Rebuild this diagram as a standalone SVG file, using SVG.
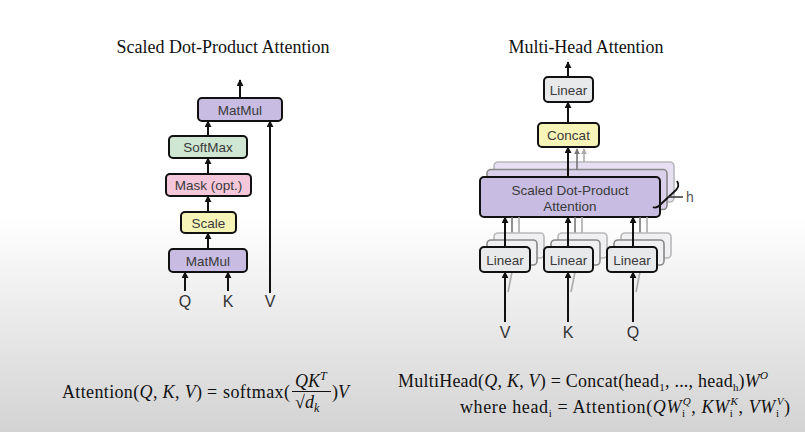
<svg xmlns="http://www.w3.org/2000/svg" width="805" height="432" viewBox="0 0 805 432">
<defs>
<linearGradient id="bg" x1="0" y1="0" x2="0" y2="1">
<stop offset="0" stop-color="#ffffff"/>
<stop offset="0.5" stop-color="#ffffff"/>
<stop offset="1" stop-color="#d3d3d3"/>
</linearGradient>
<marker id="ah" viewBox="0 0 8 8" refX="7" refY="4" markerWidth="7" markerHeight="7" markerUnits="userSpaceOnUse" orient="auto">
<path d="M0,0 L8,4 L0,8 z" fill="#111"/>
</marker>
<marker id="ahg" viewBox="0 0 8 8" refX="7" refY="4" markerWidth="6" markerHeight="6" markerUnits="userSpaceOnUse" orient="auto">
<path d="M0,0 L8,4 L0,8 z" fill="#777"/>
</marker>
<marker id="ahl" viewBox="0 0 8 8" refX="7" refY="4" markerWidth="6" markerHeight="6" markerUnits="userSpaceOnUse" orient="auto">
<path d="M0,0 L8,4 L0,8 z" fill="#aaa"/>
</marker>
</defs>
<style>
.box{stroke:#111;stroke-width:2}
.back1{stroke:#888;stroke-width:1.6}
.back2{stroke:#b8b8b8;stroke-width:1.6}
.purple{fill:#c8bce2}
.purple1{fill:#d9d0ec}
.purple2{fill:#e6e0f2}
.green{fill:#cfe7d2}
.pink{fill:#f5c7da}
.yellow{fill:#f7f4b8}
.gray{fill:#e8e9eb}
.gray1{fill:#f0f0f2}
.lbl{font-family:"Liberation Sans",Arial,sans-serif;font-size:13.5px;fill:#3a3a3a;text-anchor:middle}
.io{font-family:"Liberation Sans",Arial,sans-serif;font-size:16px;fill:#333;text-anchor:middle}
.title{font-family:"Liberation Serif","Times New Roman",serif;font-size:18px;fill:#111;text-anchor:middle}
.math{font-family:"Liberation Serif","Times New Roman",serif;font-size:18px;fill:#111}
.it{font-style:italic}
.arr{stroke:#111;stroke-width:2;fill:none;marker-end:url(#ah)}
.garr{stroke:#777;stroke-width:1.6;fill:none}
.larr{stroke:#aaa;stroke-width:1.6;fill:none}
</style>
<rect x="0" y="0" width="805" height="432" fill="url(#bg)"/>

<text class="title" x="223" y="53">Scaled Dot-Product Attention</text>
<text class="title" x="586" y="53" textLength="155">Multi-Head Attention</text>

<!-- Scaled dot-product attention nodes -->
<g id="sdpa-matmul-top"><rect class="box purple" x="198" y="98" width="84" height="23" rx="4"/><text class="lbl" x="240" y="114.5">MatMul</text></g>
<g id="sdpa-softmax"><rect class="box green" x="169" y="136" width="78" height="22" rx="4"/><text class="lbl" x="208" y="152">SoftMax</text></g>
<g id="sdpa-mask"><rect class="box pink" x="166" y="174" width="85" height="22" rx="4"/><text class="lbl" x="208.5" y="190">Mask (opt.)</text></g>
<g id="sdpa-scale"><rect class="box yellow" x="181" y="212" width="55" height="21" rx="4"/><text class="lbl" x="208.5" y="227.5">Scale</text></g>
<g id="sdpa-matmul-bottom"><rect class="box purple" x="169" y="249" width="78" height="23" rx="4"/><text class="lbl" x="208" y="265.5">MatMul</text></g>
<g id="sdpa-q"><text class="io" x="185" y="307">Q</text></g>
<g id="sdpa-k"><text class="io" x="228" y="307">K</text></g>
<g id="sdpa-v"><text class="io" x="270" y="307">V</text></g>

<!-- Multi-head attention nodes -->
<g id="mha-linear-top"><rect class="box gray" x="544" y="77" width="49" height="25" rx="4"/><text class="lbl" x="568.5" y="94.5">Linear</text></g>
<g id="mha-concat"><rect class="box yellow" x="538" y="123" width="61" height="24" rx="4"/><text class="lbl" x="568.5" y="140">Concat</text></g>
<g id="mha-sdpa">
<rect class="back2 purple2" x="494" y="162" width="180" height="40" rx="4"/>
<rect class="back1 purple1" x="487" y="169.5" width="180" height="40" rx="4"/>
<rect class="box purple" x="480" y="177" width="180" height="40" rx="4"/>
<text class="lbl" x="570" y="195">Scaled Dot-Product</text>
<text class="lbl" x="570" y="211">Attention</text>
</g>
<g id="mha-h">
<path d="M677,181 Q680,186 676,190 L661,204 Q656,209 653,207" fill="none" stroke="#111" stroke-width="1.8"/>
<line x1="668" y1="197" x2="683" y2="197" stroke="#333" stroke-width="1.5"/>
<text x="686" y="202" font-family="Liberation Sans,Arial,sans-serif" font-size="14" fill="#555">h</text>
</g>
<g id="connectors-mha-back">
<line class="larr" x1="584" y1="162" x2="584" y2="149" marker-end="url(#ahl)"/>
<line class="garr" x1="577" y1="169.5" x2="577" y2="149" marker-end="url(#ahg)"/>
<line class="larr" x1="519" y1="233" x2="519" y2="217"/>
<line class="garr" x1="512" y1="240" x2="512" y2="217"/>
<line class="larr" x1="582" y1="233" x2="582" y2="217"/>
<line class="garr" x1="575" y1="240" x2="575" y2="217"/>
<line class="larr" x1="647" y1="233" x2="647" y2="217"/>
<line class="garr" x1="640" y1="240" x2="640" y2="217"/>
<line class="larr" x1="508" y1="292" x2="512" y2="272"/>
<line class="larr" x1="571" y1="292" x2="575" y2="272"/>
<line class="larr" x1="636" y1="292" x2="640" y2="272"/>
</g>
<g id="mha-linear-v">
<rect class="back2 gray1" x="494" y="233" width="50" height="25" rx="4"/>
<rect class="back1 gray1" x="487" y="240" width="50" height="25" rx="4"/>
<rect class="box gray" x="480" y="247" width="50" height="25" rx="4"/><text class="lbl" x="505" y="264.5">Linear</text></g>
<g id="mha-linear-k">
<rect class="back2 gray1" x="558" y="233" width="49" height="25" rx="4"/>
<rect class="back1 gray1" x="551" y="240" width="49" height="25" rx="4"/>
<rect class="box gray" x="544" y="247" width="49" height="25" rx="4"/><text class="lbl" x="568.5" y="264.5">Linear</text></g>
<g id="mha-linear-q">
<rect class="back2 gray1" x="621" y="233" width="50" height="25" rx="4"/>
<rect class="back1 gray1" x="614" y="240" width="50" height="25" rx="4"/>
<rect class="box gray" x="607" y="247" width="50" height="25" rx="4"/><text class="lbl" x="632" y="264.5">Linear</text></g>
<g id="mha-v"><text class="io" x="505" y="338">V</text></g>
<g id="mha-k"><text class="io" x="568" y="338">K</text></g>
<g id="mha-q"><text class="io" x="633" y="338">Q</text></g>

<g id="connectors">
<line class="arr" x1="240" y1="98" x2="240" y2="80"/>
<line class="arr" x1="208" y1="136" x2="208" y2="121"/>
<line class="arr" x1="208" y1="174" x2="208" y2="158"/>
<line class="arr" x1="208" y1="212" x2="208" y2="196"/>
<line class="arr" x1="208" y1="249" x2="208" y2="233"/>
<line class="arr" x1="185" y1="291" x2="185" y2="272"/>
<line class="arr" x1="228" y1="291" x2="228" y2="272"/>
<line class="arr" x1="270" y1="293" x2="270" y2="121"/>
<line class="arr" x1="568" y1="77" x2="568" y2="62"/>
<line class="arr" x1="568" y1="123" x2="568" y2="102"/>
<line class="arr" x1="568" y1="177" x2="568" y2="147"/>
<line class="arr" x1="505" y1="247" x2="505" y2="217"/>
<line class="arr" x1="568" y1="247" x2="568" y2="217"/>
<line class="arr" x1="633" y1="247" x2="633" y2="217"/>
<line class="arr" x1="505" y1="322" x2="505" y2="272"/>
<line class="arr" x1="568" y1="322" x2="568" y2="272"/>
<line class="arr" x1="633" y1="322" x2="633" y2="272"/>
</g>

<!-- formulas -->
<text class="math" x="62" y="398" textLength="140" lengthAdjust="spacing">Attention(<tspan class="it">Q</tspan>, <tspan class="it">K</tspan>, <tspan class="it">V</tspan>)</text>
<text class="math" x="207" y="398">=</text>
<text class="math" x="223" y="398" textLength="67" lengthAdjust="spacing">softmax(</text>
<text class="math" x="295" y="387"><tspan class="it">QK</tspan><tspan class="it" font-size="12" dy="-7">T</tspan></text>
<line x1="292" y1="391.5" x2="331" y2="391.5" stroke="#111" stroke-width="1"/>
<text class="math" x="295" y="408">√<tspan class="it">d</tspan><tspan class="it" font-size="12" dy="4">k</tspan></text>
<text class="math" x="332" y="398">)<tspan class="it">V</tspan></text>

<text class="math" x="398" y="387" textLength="370" lengthAdjust="spacing">MultiHead(<tspan class="it">Q</tspan>, <tspan class="it">K</tspan>, <tspan class="it">V</tspan>) = Concat(head<tspan font-size="11" dy="4">1</tspan><tspan dy="-4">, ..., head</tspan><tspan font-size="11" dy="4">h</tspan><tspan dy="-4">)</tspan><tspan class="it">W</tspan><tspan class="it" font-size="11" dy="-8">O</tspan></text>
<text class="math" x="460" y="413" textLength="330" lengthAdjust="spacing">where head<tspan font-size="11" dy="4">i</tspan><tspan dy="-4"> = Attention(</tspan><tspan class="it">QW</tspan><tspan font-size="11" dy="4">i</tspan><tspan class="it" font-size="11" dx="-3" dy="-12">Q</tspan><tspan dy="8">, </tspan><tspan class="it">KW</tspan><tspan font-size="11" dy="4">i</tspan><tspan class="it" font-size="11" dx="-3" dy="-12">K</tspan><tspan dy="8">, </tspan><tspan class="it">VW</tspan><tspan font-size="11" dy="4">i</tspan><tspan class="it" font-size="11" dx="-3" dy="-12">V</tspan><tspan dy="8">)</tspan></text>
</svg>
